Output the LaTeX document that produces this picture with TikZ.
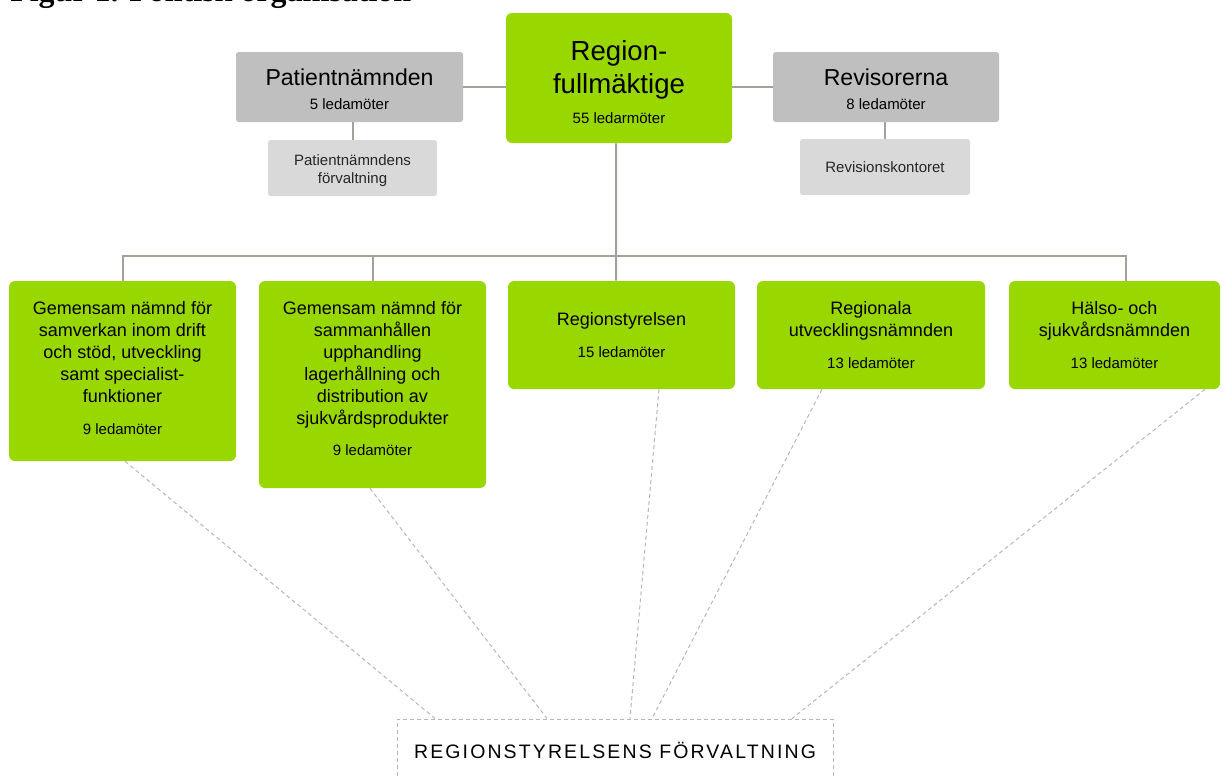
\documentclass[tikz,border=0pt]{standalone}
\usepackage{fontspec}
\setmainfont{Liberation Sans}
\newfontfamily\titlefont{Liberation Serif}
\newfontfamily\spacedfont[LetterSpace=11]{Liberation Sans}
\definecolor{rgreen}{RGB}{153,215,0}
\definecolor{rgray}{RGB}{191,191,191}
\definecolor{rlgray}{RGB}{217,217,217}
\definecolor{rconn}{RGB}{166,160,155}
\definecolor{rdash}{RGB}{187,182,177}
\newcommand\fBig{\fontsize{20.7}{24.75}\selectfont}
\newcommand\fMid{\fontsize{17.3}{18}\selectfont}
\newcommand\fBox{\fontsize{13.5}{16.5}\selectfont}
\newcommand\fSm{\fontsize{11.25}{13.5}\selectfont}
\begin{document}
\begin{tikzpicture}[x=0.75pt,y=-0.75pt,
  greenbox/.style={fill=rgreen,rounded corners=4.5pt,inner sep=0pt,align=center,text=black,font=\fBox},
  graybox/.style={fill=rgray,rounded corners=2pt,inner sep=0pt,align=center,text=black,font=\fMid},
  lgraybox/.style={fill=rlgray,rounded corners=2pt,inner sep=0pt,align=center,text=black!85,font=\fSm},
  conn/.style={draw=rconn,line width=1.5pt},
  dashconn/.style={draw=rdash,line width=0.75pt,dash pattern=on 3pt off 2.25pt},
  dashbox/.style={draw=rdash,line width=0.75pt,dash pattern=on 3pt off 2.25pt,inner sep=0pt,align=center}]
\useasboundingbox (0,0) rectangle (1224,778);

\node[anchor=base west,inner sep=0pt,font=\titlefont\bfseries\fontsize{24}{28}\selectfont] (title) at (10,2) {Figur 1. Politisk organisation};

\node[greenbox,font=\fBig,minimum width=169.5pt,minimum height=97.5pt] (RF) at (619,78)
  {\rule{0pt}{21pt}Region-\\fullmäktige\\[-2pt]\fSm 55 ledarmöter};
\node[graybox,minimum width=170.25pt,minimum height=52.5pt] (PN) at (349.5,87)
  {\rule{0pt}{15.5pt}Patientnämnden\\\fSm 5 ledamöter};
\node[lgraybox,minimum width=126.75pt,minimum height=42pt] (PNF) at (352.5,168)
  {\rule{0pt}{12.7pt}Patientnämndens\\förvaltning};
\node[graybox,minimum width=169.5pt,minimum height=52.5pt] (RV) at (886,87)
  {\rule{0pt}{15.5pt}Revisorerna\\\fSm 8 ledamöter};
\node[lgraybox,minimum width=127.5pt,minimum height=42pt] (RK) at (885,167)
  {Revisionskontoret};

\node[greenbox,minimum width=170.25pt,minimum height=135pt] (B1) at (122.5,371)
  {Gemensam nämnd för\\samverkan inom drift\\och stöd, utveckling\\samt specialist-\\funktioner\\[7.5pt]\fSm 9 ledamöter\rule[-5.25pt]{0pt}{0pt}};
\node[greenbox,minimum width=170.25pt,minimum height=155.25pt] (B2) at (372.5,384.5)
  {Gemensam nämnd för\\sammanhållen\\upphandling\\lagerhållning och\\distribution av\\sjukvårdsprodukter\\[6.75pt]\fSm 9 ledamöter\rule[-9pt]{0pt}{0pt}};
\node[greenbox,minimum width=170.25pt,minimum height=81pt] (B3) at (621.5,335)
  {Regionstyrelsen\\[7.5pt]\fSm 15 ledamöter};
\node[greenbox,minimum width=171pt,minimum height=81pt] (B4) at (871,335)
  {Regionala\\utvecklingsnämnden\\[7.5pt]\fSm 13 ledamöter};
\node[greenbox,minimum width=158.25pt,minimum height=81pt] (B5) at (1114.5,335)
  {Hälso- och\\sjukvårdsnämnden\\[7.5pt]\fSm 13 ledamöter};

\node[dashbox,minimum width=327pt,minimum height=46.5pt] (RSF) at (615,750)
  {\spacedfont\fontsize{14.6}{17}\selectfont REGIONSTYRELSENS FÖRVALTNING};

% connectors
\draw[conn] (PN.east) -- (PN.east -| RF.west);
\draw[conn] (RV.west) -- (RV.west -| RF.east);
\draw[conn] (PN.south -| PNF.north) -- (PNF.north);
\draw[conn] (RV.south -| RK.north) -- (RK.north);
\coordinate (bus) at (616,256);
\draw[conn] ([xshift=-2.25pt]RF.south) -- (bus) -- ([xshift=-4.1pt]B3.north);
\draw[conn] (B1.north) |- (bus);
\draw[conn] (bus) -| ([xshift=8.6pt]B5.north);
\draw[conn] (B2.north) -- (B2.north |- bus);

% dashed connectors
\draw[dashconn] ([xshift=1.9pt]B1.south) -- ([xshift=-135pt]RSF.north);
\draw[dashconn] ([xshift=-1.9pt]B2.south) -- ([xshift=-51pt]RSF.north);
\draw[dashconn] ([xshift=28.1pt]B3.south) -- ([xshift=11.25pt]RSF.north);
\draw[dashconn] ([xshift=-36.75pt]B4.south) -- ([xshift=27.75pt]RSF.north);
\draw[dashconn] ([xshift=67.9pt]B5.south) -- ([xshift=132.75pt]RSF.north);
\end{tikzpicture}
\end{document}
